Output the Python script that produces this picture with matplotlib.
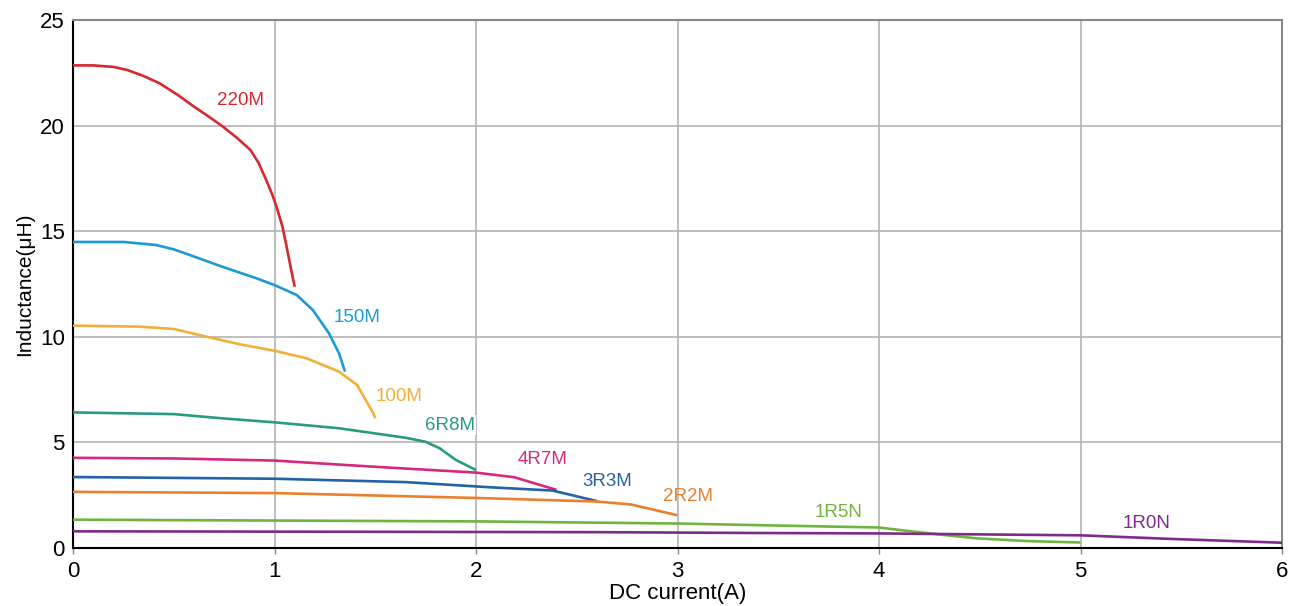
import numpy as np
import matplotlib
matplotlib.use('Agg')
import matplotlib.pyplot as plt

plt.rcParams['font.family'] = ['Liberation Sans', 'DejaVu Sans']

# Curvas L vs I
x_220M = [0.0, 0.1, 0.2, 0.27, 0.35, 0.43, 0.52, 0.60, 0.67, 0.74, 0.81, 0.88, 0.92, 0.96, 0.99, 1.01, 1.04, 1.06, 1.08, 1.10]
y_220M = [22.85, 22.85, 22.78, 22.63, 22.35, 22.0, 21.45, 20.9, 20.45, 19.98, 19.45, 18.85, 18.25, 17.4, 16.7, 16.16, 15.2, 14.27, 13.3, 12.37]

x_150M = [0.0, 0.25, 0.41, 0.5, 0.58, 0.74, 0.91, 1.0, 1.11, 1.19, 1.27, 1.32, 1.35]
y_150M = [14.49, 14.49, 14.35, 14.14, 13.87, 13.32, 12.77, 12.45, 11.98, 11.27, 10.17, 9.22, 8.35]

x_100M = [0.0, 0.33, 0.5, 0.66, 0.83, 1.0, 1.16, 1.32, 1.41, 1.49, 1.50]
y_100M = [10.53, 10.48, 10.37, 10.01, 9.64, 9.34, 8.98, 8.35, 7.72, 6.38, 6.14]

x_6R8M = [0.0, 0.5, 0.74, 1.0, 1.32, 1.65, 1.75, 1.82, 1.90, 2.0]
y_6R8M = [6.42, 6.34, 6.14, 5.95, 5.67, 5.22, 5.03, 4.72, 4.17, 3.69]

x_4R7M = [0.0, 0.5, 1.0, 1.49, 2.0, 2.19, 2.40]
y_4R7M = [4.27, 4.24, 4.14, 3.85, 3.57, 3.35, 2.75]

x_3R3M = [0.0, 1.0, 1.65, 2.08, 2.38, 2.60]
y_3R3M = [3.36, 3.28, 3.12, 2.87, 2.72, 2.22]

x_2R2M = [0.0, 1.0, 2.0, 2.6, 2.77, 3.0]
y_2R2M = [2.66, 2.60, 2.37, 2.2, 2.06, 1.55]

x_1R5N = [0.0, 2.0, 3.0, 3.41, 4.0, 4.15, 4.32, 4.48, 4.73, 5.0]
y_1R5N = [1.34, 1.26, 1.16, 1.08, 0.97, 0.80, 0.62, 0.46, 0.33, 0.26]

x_1R0N = [0.0, 2.6, 3.41, 4.0, 5.0, 5.45, 6.0]
y_1R0N = [0.79, 0.75, 0.71, 0.69, 0.60, 0.43, 0.25]

series = [
    ('220M', x_220M, y_220M, '#d7282f', (0.83, 21.17)),
    ('150M', x_150M, y_150M, '#1b9ad6', (1.41, 10.9)),
    ('100M', x_100M, y_100M, '#f0b03a', (1.62, 7.15)),
    ('6R8M', x_6R8M, y_6R8M, '#2a9a80', (1.87, 5.82)),
    ('4R7M', x_4R7M, y_4R7M, '#d6287f', (2.33, 4.17)),
    ('3R3M', x_3R3M, y_3R3M, '#2462a8', (2.65, 3.17)),
    ('2R2M', x_2R2M, y_2R2M, '#ea7f2e', (3.05, 2.46)),
    ('1R5N', x_1R5N, y_1R5N, '#6eb43f', (3.80, 1.70)),
    ('1R0N', x_1R0N, y_1R0N, '#7e2a8a', (5.33, 1.18)),
]

fig = plt.figure(figsize=(12.9, 6.06), dpi=100)
ax = fig.add_axes([0.0566, 0.0957, 0.9372, 0.8713])

for nombre, xs, ys, color, pos in series:
    ax.plot(xs, ys, color=color, lw=1.9, solid_capstyle='butt', solid_joinstyle='round', zorder=3)
    bbox = dict(facecolor='white', edgecolor='none', pad=1) if nombre == '6R8M' else None
    ax.text(pos[0], pos[1], nombre, color=color, fontsize=13.5, ha='center', va='center',
            bbox=bbox, zorder=4)

ax.set_xlim(0, 6)
ax.set_ylim(0, 25)
ax.set_xticks(range(0, 7))
ax.set_yticks(range(0, 26, 5))
ax.grid(True, color='#b4b4b4', lw=1.2, zorder=0)
ax.set_axisbelow(True)
ax.tick_params(axis='x', length=4, width=1, color='#888888', labelsize=16, pad=5)
ax.tick_params(axis='y', length=0, labelsize=16, pad=6)
for s in ['top', 'right']:
    ax.spines[s].set_color('#888888')
    ax.spines[s].set_linewidth(1.5)
for s in ['left', 'bottom']:
    ax.spines[s].set_color('black')
    ax.spines[s].set_linewidth(1.5)

ax.set_xlabel('DC current(A)', fontsize=16, labelpad=1)
ax.set_ylabel('Inductance(μH)', fontsize=15, labelpad=4)

plt.savefig('out.png', dpi=100)
